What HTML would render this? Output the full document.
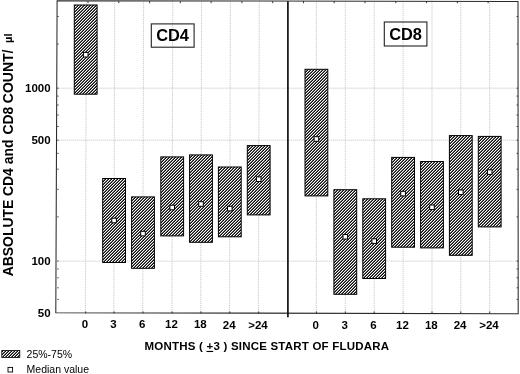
<!DOCTYPE html>
<html lang="en"><head><meta charset="utf-8"><title>CD4 and CD8 counts</title>
<style>html,body{margin:0;padding:0;background:#fff}svg{display:block}text{font-family:"Liberation Sans",sans-serif;fill:#000}.b{font-weight:bold}</style></head><body>
<svg width="520" height="374" viewBox="0 0 520 374">
<defs><pattern id="h" width="3" height="3" patternUnits="userSpaceOnUse" shape-rendering="crispEdges"><rect width="3" height="3" fill="#0c0c0c"/><path d="M0 0h1v1h-1zM2 1h1v1h-1zM1 2h1v1h-1z" fill="#fff"/><path d="M1 0h1v1h-1zM0 1h1v1h-1zM2 2h1v1h-1z" fill="#686868"/></pattern></defs>
<rect width="520" height="374" fill="#fff"/>
<g stroke="#b2b2b2" stroke-width="0.8" stroke-dasharray="1 1" fill="none">
<line x1="57.3" y1="88.2" x2="518.0" y2="88.2"/>
<line x1="57.3" y1="140.2" x2="518.0" y2="140.2"/>
<line x1="57.3" y1="261.1" x2="518.0" y2="261.1"/>
<line x1="86.3" y1="1.2" x2="85.4" y2="313.3"/>
<line x1="114.7" y1="1.2" x2="113.8" y2="313.3"/>
<line x1="143.6" y1="1.2" x2="142.7" y2="313.3"/>
<line x1="172.8" y1="1.2" x2="171.9" y2="313.3"/>
<line x1="201.6" y1="1.2" x2="200.7" y2="313.3"/>
<line x1="230.4" y1="1.2" x2="229.5" y2="313.3"/>
<line x1="259.3" y1="1.2" x2="258.4" y2="313.3"/>
<line x1="316.4" y1="1.2" x2="316.4" y2="313.3"/>
<line x1="345.3" y1="1.2" x2="345.3" y2="313.3"/>
<line x1="374.2" y1="1.2" x2="374.2" y2="313.3"/>
<line x1="403.1" y1="1.2" x2="403.1" y2="313.3"/>
<line x1="432.0" y1="1.2" x2="432.0" y2="313.3"/>
<line x1="460.8" y1="1.2" x2="460.8" y2="313.3"/>
<line x1="489.7" y1="1.2" x2="489.7" y2="313.3"/>
</g>
<g fill="url(#h)" stroke="none"><rect x="74.3" y="5.0" width="22.8" height="89.2"/><rect x="102.7" y="178.5" width="22.8" height="84.0"/><rect x="131.6" y="196.9" width="22.8" height="71.4"/><rect x="160.8" y="156.9" width="22.8" height="79.0"/><rect x="189.6" y="154.9" width="22.8" height="87.4"/><rect x="218.4" y="167.0" width="22.8" height="69.8"/><rect x="247.3" y="145.6" width="22.8" height="69.3"/><rect x="305.0" y="69.3" width="22.8" height="126.6"/><rect x="333.9" y="189.7" width="22.8" height="104.6"/><rect x="362.8" y="198.8" width="22.8" height="79.7"/><rect x="391.7" y="157.4" width="22.8" height="89.8"/><rect x="420.6" y="161.5" width="22.8" height="86.4"/><rect x="449.4" y="135.6" width="22.8" height="119.7"/><rect x="478.3" y="136.4" width="22.8" height="90.5"/><rect x="1.8" y="350.4" width="18" height="7.1"/></g>
<g fill="none" stroke="#000" stroke-width="1">
<rect x="74.3" y="5.0" width="22.8" height="89.2"/>
<rect x="102.7" y="178.5" width="22.8" height="84.0"/>
<rect x="131.6" y="196.9" width="22.8" height="71.4"/>
<rect x="160.8" y="156.9" width="22.8" height="79.0"/>
<rect x="189.6" y="154.9" width="22.8" height="87.4"/>
<rect x="218.4" y="167.0" width="22.8" height="69.8"/>
<rect x="247.3" y="145.6" width="22.8" height="69.3"/>
<rect x="305.0" y="69.3" width="22.8" height="126.6"/>
<rect x="333.9" y="189.7" width="22.8" height="104.6"/>
<rect x="362.8" y="198.8" width="22.8" height="79.7"/>
<rect x="391.7" y="157.4" width="22.8" height="89.8"/>
<rect x="420.6" y="161.5" width="22.8" height="86.4"/>
<rect x="449.4" y="135.6" width="22.8" height="119.7"/>
<rect x="478.3" y="136.4" width="22.8" height="90.5"/>
</g>
<g fill="#fff" stroke="#000" stroke-width="1">
<rect x="83.4" y="52.4" width="4.6" height="4.6"/>
<rect x="111.8" y="218.2" width="4.6" height="4.6"/>
<rect x="140.7" y="231.3" width="4.6" height="4.6"/>
<rect x="169.9" y="205.2" width="4.6" height="4.6"/>
<rect x="198.7" y="201.7" width="4.6" height="4.6"/>
<rect x="227.5" y="206.3" width="4.6" height="4.6"/>
<rect x="256.4" y="176.9" width="4.6" height="4.6"/>
<rect x="314.1" y="136.7" width="4.6" height="4.6"/>
<rect x="343.0" y="234.5" width="4.6" height="4.6"/>
<rect x="371.9" y="238.8" width="4.6" height="4.6"/>
<rect x="400.8" y="191.3" width="4.6" height="4.6"/>
<rect x="429.7" y="205.0" width="4.6" height="4.6"/>
<rect x="458.5" y="190.0" width="4.6" height="4.6"/>
<rect x="487.4" y="169.8" width="4.6" height="4.6"/>
</g>
<path d="M57.1 0.7L518.0 1.6L518.2 313.7L55.8 312.7Z" fill="none" stroke="#2a2a2a" stroke-width="1.05"/>
<line x1="287.9" y1="1.2" x2="287.9" y2="317.2" stroke="#111" stroke-width="1.7"/>
<g stroke="#222" stroke-width="0.9">
<line x1="57.3" y1="299.4" x2="58.65" y2="299.4"/>
<line x1="518.0" y1="299.4" x2="516.65" y2="299.4"/>
<line x1="57.3" y1="287.8" x2="58.65" y2="287.8"/>
<line x1="518.0" y1="287.8" x2="516.65" y2="287.8"/>
<line x1="57.3" y1="277.8" x2="58.65" y2="277.8"/>
<line x1="518.0" y1="277.8" x2="516.65" y2="277.8"/>
<line x1="57.3" y1="269.0" x2="58.65" y2="269.0"/>
<line x1="518.0" y1="269.0" x2="516.65" y2="269.0"/>
<line x1="57.3" y1="261.1" x2="58.65" y2="261.1"/>
<line x1="518.0" y1="261.1" x2="516.65" y2="261.1"/>
<line x1="57.3" y1="216.9" x2="58.65" y2="216.9"/>
<line x1="518.0" y1="216.9" x2="516.65" y2="216.9"/>
<line x1="57.3" y1="189.3" x2="58.65" y2="189.3"/>
<line x1="518.0" y1="189.3" x2="516.65" y2="189.3"/>
<line x1="57.3" y1="169.2" x2="58.65" y2="169.2"/>
<line x1="518.0" y1="169.2" x2="516.65" y2="169.2"/>
<line x1="57.3" y1="153.3" x2="58.65" y2="153.3"/>
<line x1="518.0" y1="153.3" x2="516.65" y2="153.3"/>
<line x1="57.3" y1="140.2" x2="58.65" y2="140.2"/>
<line x1="518.0" y1="140.2" x2="516.65" y2="140.2"/>
<line x1="57.3" y1="126.5" x2="58.65" y2="126.5"/>
<line x1="518.0" y1="126.5" x2="516.65" y2="126.5"/>
<line x1="57.3" y1="115.0" x2="58.65" y2="115.0"/>
<line x1="518.0" y1="115.0" x2="516.65" y2="115.0"/>
<line x1="57.3" y1="105.0" x2="58.65" y2="105.0"/>
<line x1="518.0" y1="105.0" x2="516.65" y2="105.0"/>
<line x1="57.3" y1="96.1" x2="58.65" y2="96.1"/>
<line x1="518.0" y1="96.1" x2="516.65" y2="96.1"/>
<line x1="57.3" y1="88.2" x2="58.65" y2="88.2"/>
<line x1="518.0" y1="88.2" x2="516.65" y2="88.2"/>
<line x1="57.3" y1="44.1" x2="58.65" y2="44.1"/>
<line x1="518.0" y1="44.1" x2="516.65" y2="44.1"/>
<line x1="57.3" y1="16.5" x2="58.65" y2="16.5"/>
<line x1="518.0" y1="16.5" x2="516.65" y2="16.5"/>
<line x1="85.7" y1="313.3" x2="85.7" y2="311.5"/>
<line x1="114.1" y1="313.3" x2="114.1" y2="311.5"/>
<line x1="143.0" y1="313.3" x2="143.0" y2="311.5"/>
<line x1="172.2" y1="313.3" x2="172.2" y2="311.5"/>
<line x1="201.0" y1="313.3" x2="201.0" y2="311.5"/>
<line x1="229.8" y1="313.3" x2="229.8" y2="311.5"/>
<line x1="258.7" y1="313.3" x2="258.7" y2="311.5"/>
<line x1="316.4" y1="313.3" x2="316.4" y2="311.5"/>
<line x1="345.3" y1="313.3" x2="345.3" y2="311.5"/>
<line x1="374.2" y1="313.3" x2="374.2" y2="311.5"/>
<line x1="403.1" y1="313.3" x2="403.1" y2="311.5"/>
<line x1="432.0" y1="313.3" x2="432.0" y2="311.5"/>
<line x1="460.8" y1="313.3" x2="460.8" y2="311.5"/>
<line x1="489.7" y1="313.3" x2="489.7" y2="311.5"/>
<line x1="88.0" y1="1.2" x2="88.0" y2="3.2"/>
<line x1="118.8" y1="1.2" x2="118.8" y2="3.2"/>
<line x1="149.6" y1="1.2" x2="149.6" y2="3.2"/>
<line x1="180.3" y1="1.2" x2="180.3" y2="3.2"/>
<line x1="211.1" y1="1.2" x2="211.1" y2="3.2"/>
<line x1="241.9" y1="1.2" x2="241.9" y2="3.2"/>
<line x1="272.7" y1="1.2" x2="272.7" y2="3.2"/>
<line x1="303.5" y1="1.2" x2="303.5" y2="3.2"/>
<line x1="334.2" y1="1.2" x2="334.2" y2="3.2"/>
<line x1="365.0" y1="1.2" x2="365.0" y2="3.2"/>
<line x1="395.8" y1="1.2" x2="395.8" y2="3.2"/>
<line x1="426.6" y1="1.2" x2="426.6" y2="3.2"/>
<line x1="457.4" y1="1.2" x2="457.4" y2="3.2"/>
<line x1="488.1" y1="1.2" x2="488.1" y2="3.2"/>
</g>
<rect x="151.3" y="23.9" width="42.8" height="23.3" fill="none" stroke="#222" stroke-width="1.1"/>
<text class="b" x="172.6" y="41.4" font-size="17" text-anchor="middle" textLength="32.8" lengthAdjust="spacingAndGlyphs">CD4</text>
<rect x="384.3" y="22" width="42.6" height="24" fill="none" stroke="#222" stroke-width="1.1"/>
<text class="b" x="405.6" y="39.6" font-size="17" text-anchor="middle" textLength="32.8" lengthAdjust="spacingAndGlyphs">CD8</text>
<text class="b" x="50.6" y="91.9" font-size="11.5" text-anchor="end">1000</text>
<text class="b" x="50.6" y="143.9" font-size="11.5" text-anchor="end">500</text>
<text class="b" x="50.6" y="264.8" font-size="11.5" text-anchor="end">100</text>
<text class="b" x="50.6" y="316.8" font-size="11.5" text-anchor="end">50</text>
<text class="b" x="85.0" y="328.1" font-size="11.5" text-anchor="middle">0</text>
<text class="b" x="113.4" y="328.2" font-size="11.5" text-anchor="middle">3</text>
<text class="b" x="142.3" y="328.2" font-size="11.5" text-anchor="middle">6</text>
<text class="b" x="171.5" y="328.3" font-size="11.5" text-anchor="middle">12</text>
<text class="b" x="200.3" y="328.4" font-size="11.5" text-anchor="middle">18</text>
<text class="b" x="229.2" y="328.5" font-size="11.5" text-anchor="middle">24</text>
<text class="b" x="258.0" y="328.5" font-size="11.5" text-anchor="middle">&gt;24</text>
<text class="b" x="315.7" y="328.7" font-size="11.5" text-anchor="middle">0</text>
<text class="b" x="344.6" y="328.7" font-size="11.5" text-anchor="middle">3</text>
<text class="b" x="373.5" y="328.8" font-size="11.5" text-anchor="middle">6</text>
<text class="b" x="402.4" y="328.9" font-size="11.5" text-anchor="middle">12</text>
<text class="b" x="431.3" y="329.0" font-size="11.5" text-anchor="middle">18</text>
<text class="b" x="460.1" y="329.0" font-size="11.5" text-anchor="middle">24</text>
<text class="b" x="489.0" y="329.1" font-size="11.5" text-anchor="middle">&gt;24</text>
<text class="b" x="144.5" y="349.9" font-size="11.5" textLength="244.6" lengthAdjust="spacing">MONTHS ( <tspan text-decoration="underline">+</tspan>3 ) SINCE START OF FLUDARA</text>
<text class="b" transform="translate(12.8 276.2) rotate(-90) scale(1 1.08)" font-size="13.9">ABSOLUTE CD4 and</text>
<text class="b" transform="translate(12.8 134.6) rotate(-90) scale(1 1.08)" font-size="13.9">CD8</text>
<text class="b" transform="translate(12.8 103.2) rotate(-90) scale(1 1.08)" font-size="14">COUNT/</text>
<text class="b" transform="translate(12.2 42.9) rotate(-90)" font-size="11">µl</text>
<rect x="1.8" y="350.4" width="18" height="7.1" fill="none" stroke="#000" stroke-width="0.8"/>
<text x="26.6" y="357.7" font-size="10.5">25%-75%</text>
<rect x="8.0" y="367.4" width="4.6" height="4.6" fill="#fff" stroke="#000" stroke-width="0.9"/>
<text x="26.6" y="373.3" font-size="10.5">Median value</text>
</svg></body></html>
